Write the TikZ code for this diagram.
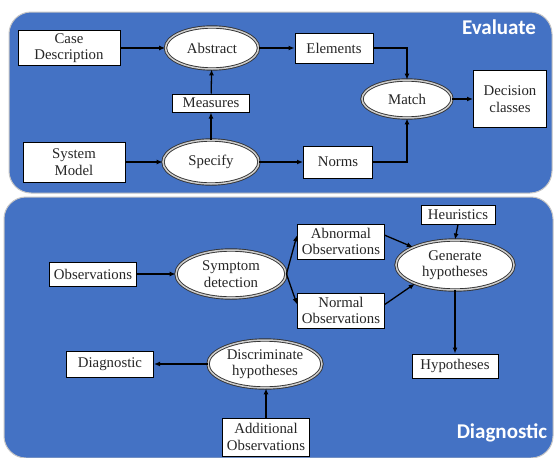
\documentclass[tikz,border=0pt]{standalone}
\usepackage{fontspec}
\setmainfont{Liberation Serif}
\newfontfamily\titlefont{Carlito}
\usetikzlibrary{shapes.geometric,arrows.meta}
\definecolor{panelblue}{RGB}{68,114,196}
\begin{document}
\begin{tikzpicture}[x=1pt,y=-1pt,
  panel/.style={fill=panelblue,draw=gray!45,line width=1pt,rounded corners=22pt},
  ttl/.style={text=white,font=\titlefont\fontsize{21}{24}\selectfont\bfseries},
  lbl/.style={font=\fontsize{14.8}{16.5}\selectfont,text=black!85,align=center},
  boxnode/.style={lbl,rectangle,draw=black,line width=1pt,fill=white,inner sep=1pt},
  ellnode/.style={lbl,ellipse,draw=black!80,line width=0.9pt,double=gray!40,double distance=1.5pt,fill=white,inner sep=0pt},
  arr/.style={-{Latex[length=6pt,width=5pt]},line width=1.3pt,black}]
\useasboundingbox (0,0) rectangle (555,458);

% panels
\fill[white] (0,0) rectangle (555,458);
\draw[panel] (9,12) rectangle (552,193);
\draw[panel] (4,197) rectangle (553,458);
\node[ttl] (tEval) at (499,27) {Evaluate};
\node[ttl] (tDiag) at (502,433) {Diagnostic};

% evaluation flow
\node[boxnode,minimum width=102pt,minimum height=35pt] (casedesc) at (69,48) {Case\\Description};
\node[ellnode,minimum width=93pt,minimum height=42pt] (abstract) at (212,48) {Abstract};
\node[boxnode,minimum width=77pt,minimum height=18pt] (measures) at (211,103) {Measures};
\node[boxnode,minimum width=102pt,minimum height=40pt] (sysmodel) at (74,162) {System\\Model};
\node[ellnode,minimum width=96pt,minimum height=44pt] (specify) at (211,162) {Specify};
\node[boxnode,minimum width=78pt,minimum height=30pt] (elements) at (334,48) {Elements};
\node[ellnode,minimum width=90pt,minimum height=38pt] (match) at (407,99) {Match};
\node[boxnode,minimum width=73pt,minimum height=57pt] (decision) at (510,99) {Decision\\classes};
\node[boxnode,minimum width=69pt,minimum height=32pt] (norms) at (338,162) {Norms};

\draw[arr] (casedesc) -- (abstract);
\draw[arr] (abstract) -- (elements);
\draw[arr] (elements.east) -| (match.north);
\draw[arr] (norms.east) -| (match.south);
\draw[arr] (match) -- (decision);
\draw[arr] (sysmodel) -- (specify);
\draw[arr] (specify) -- (norms);
\draw[arr] (specify) -- (measures);
\draw[arr] (measures) -- (abstract);

% diagnostic flow
\node[boxnode,minimum width=87pt,minimum height=24pt] (observ) at (93,274) {Observations};
\node[ellnode,minimum width=110pt,minimum height=48pt] (symptom) at (231,274) {Symptom\\detection};
\node[boxnode,minimum width=87pt,minimum height=35pt] (abnormal) at (341,241.5) {Abnormal\\Observations};
\node[boxnode,minimum width=87pt,minimum height=35pt] (normal) at (341,310.5) {Normal\\Observations};
\node[boxnode,minimum width=74pt,minimum height=19pt] (heur) at (458,214.5) {Heuristics};
\node[ellnode,minimum width=118pt,minimum height=50pt] (generate) at (455,265) {Generate\\hypotheses};
\node[boxnode,minimum width=86pt,minimum height=24pt] (hypo) at (455,366) {Hypotheses};
\node[ellnode,minimum width=114pt,minimum height=48pt] (discrim) at (265,364) {Discriminate\\hypotheses};
\node[boxnode,minimum width=87pt,minimum height=26pt] (diag) at (110,364) {Diagnostic};
\node[boxnode,minimum width=87pt,minimum height=38pt] (addl) at (266,437) {Additional\\Observations};

\draw[arr] (observ) -- (symptom);
\draw[arr] (symptom.east) -- (abnormal.172);
\draw[arr] (symptom.east) -- (normal.172);
\draw[arr] (abnormal.8) -- (generate.157);
\draw[arr] (normal.8) -- (generate.205);
\draw[arr] (heur.south) -- (generate.north);
\draw[arr] (generate) -- (hypo);
\draw[arr] (discrim) -- (diag);
\draw[arr] (addl.north) -- (addl.north |- discrim.south);
\end{tikzpicture}
\end{document}
